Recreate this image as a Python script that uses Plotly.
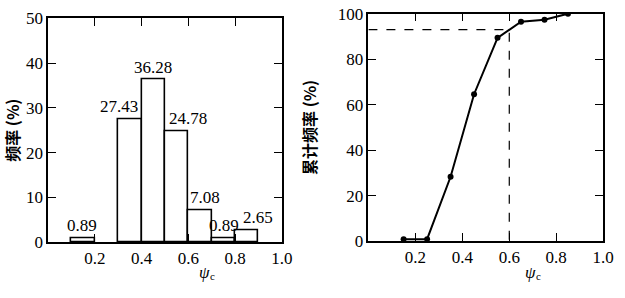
import plotly.graph_objects as go

# ---- data ----
bin_left = [0.1, 0.3, 0.4, 0.5, 0.6, 0.7, 0.8]
freq = [0.89, 27.43, 36.28, 24.78, 7.08, 0.89, 2.65]
freq_labels = ["0.89", "27.43", "36.28", "24.78", "7.08", "0.89", "2.65"]
cum_x = [0.15, 0.25, 0.35, 0.45, 0.55, 0.65, 0.75, 0.85]
cum_y = [0.89, 0.89, 28.32, 64.60, 89.38, 96.46, 97.35, 100.0]
ref_x = 0.6
ref_y = 93.0
x_ticks = [0.2, 0.4, 0.6, 0.8, 1.0]
x_ticklabels = ["0.2", "0.4", "0.6", "0.8", "1.0"]
left_yticks = [0, 10, 20, 30, 40, 50]
right_yticks = [0, 20, 40, 60, 80, 100]
left_ytitle = "频率 (%)"
right_ytitle = "累计频率 (%)"
x_title = "ψ"
x_title_sub = "c"
bin_width = 0.1

# label horizontal nudges (style only)
label_xshift = [-1, -11, 0, 11, 5, 1, 11]

SERIF = "Liberation Serif"
CJK = "Noto Sans CJK SC"

fig = go.Figure()

fig.add_trace(go.Bar(
    x=[b + bin_width / 2 for b in bin_left], y=freq, width=bin_width,
    marker=dict(color="white", line=dict(color="black", width=1.6)),
    xaxis="x", yaxis="y", showlegend=False,
))

fig.add_trace(go.Scatter(
    x=[0, ref_x, ref_x], y=[ref_y, ref_y, 0], mode="lines",
    line=dict(color="black", width=1.2, dash="dash"),
    xaxis="x2", yaxis="y2", showlegend=False,
))
fig.add_trace(go.Scatter(
    x=cum_x, y=cum_y, mode="lines+markers",
    line=dict(color="black", width=2),
    marker=dict(color="black", size=6),
    xaxis="x2", yaxis="y2", showlegend=False,
))

fig.update_layout(
    width=625, height=298,
    margin=dict(l=0, r=0, t=0, b=0),
    paper_bgcolor="white", plot_bgcolor="white",
    bargap=0,
)

tick_style = dict(
    showline=True, linecolor="black", linewidth=1.5, mirror="ticks",
    ticks="inside", ticklen=8, tickwidth=1.3, tickcolor="black",
    showgrid=False, zeroline=False,
)

fig.update_layout(
    xaxis=dict(domain=[49 / 625, 287 / 625], range=[0, 1.0], anchor="y",
               tickvals=x_ticks, ticktext=x_ticklabels,
               tickfont=dict(family=SERIF, size=17, color="black"), **tick_style),
    yaxis=dict(domain=[(298 - 249) / 298, (298 - 10) / 298], range=[0, 50], anchor="x",
               tickvals=left_yticks,
               tickfont=dict(family=SERIF, size=17, color="black"),
               title=dict(text=left_ytitle, standoff=7,
                          font=dict(family=CJK, size=16, color="black", weight="bold")),
               **tick_style),
    xaxis2=dict(domain=[375 / 625, 614 / 625], range=[0, 1.0], anchor="y2",
                tickvals=x_ticks, ticktext=x_ticklabels,
                tickfont=dict(family=SERIF, size=17, color="black"), **tick_style),
    yaxis2=dict(domain=[(298 - 248) / 298, (298 - 5) / 298], range=[0, 100], anchor="x2",
                tickvals=right_yticks,
                tickfont=dict(family=SERIF, size=17, color="black"),
                title=dict(text=right_ytitle, standoff=17,
                           font=dict(family=CJK, size=16, color="black", weight="bold")),
                **tick_style),
)

for b, v, t, dx in zip(bin_left, freq, freq_labels, label_xshift):
    fig.add_annotation(
        x=b + bin_width / 2, y=v, xref="x", yref="y", text=t, showarrow=False,
        yanchor="bottom", xanchor="center", yshift=1, xshift=dx,
        font=dict(family=SERIF, size=17, color="black"),
    )

for xp in (208, 540):
    fig.add_annotation(x=xp / 625, y=1 - 281 / 298, xref="paper", yref="paper",
                       text=x_title, showarrow=False, xanchor="center", yanchor="middle",
                       font=dict(family=SERIF, size=17, color="black", style="italic"))
    fig.add_annotation(x=(xp + 8) / 625, y=1 - 285 / 298, xref="paper", yref="paper",
                       text=x_title_sub, showarrow=False, xanchor="center", yanchor="middle",
                       font=dict(family=SERIF, size=11, color="black"))

fig.write_html("out.html")
